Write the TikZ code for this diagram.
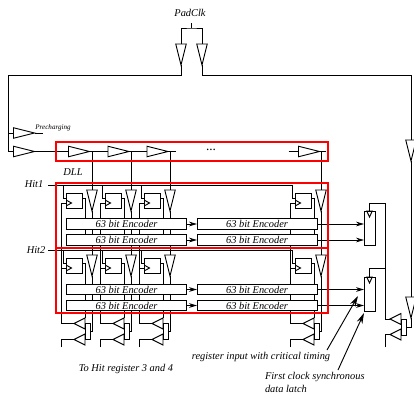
\documentclass[tikz,border=0pt]{standalone}
\usepackage{fontspec}
\setmainfont{Liberation Serif}
\usetikzlibrary{positioning,arrows.meta,shapes.geometric,calc}

\begin{document}
\begin{tikzpicture}[
    x=0.75pt, y=-0.75pt,
    line width=0.7pt,
    every node/.style={inner sep=0pt, outer sep=0pt},
    bufr/.style={draw, isosceles triangle, isosceles triangle stretches, shape border rotate=0, minimum width=10.5*0.75pt, minimum height=21*0.75pt},
    bufl/.style={draw, isosceles triangle, isosceles triangle stretches, shape border rotate=180, minimum width=11*0.75pt, minimum height=11*0.75pt},
    bufd/.style={draw, isosceles triangle, isosceles triangle stretches, shape border rotate=270, minimum width=10.5*0.75pt, minimum height=21*0.75pt},
    clkr/.style={draw, isosceles triangle, isosceles triangle stretches, shape border rotate=0, minimum width=5.5*0.75pt, minimum height=5*0.75pt, anchor=lower side},
    clkd/.style={draw, isosceles triangle, isosceles triangle stretches, shape border rotate=270, minimum width=5.5*0.75pt, minimum height=6*0.75pt, anchor=lower side},
    ffbox/.style={draw, rectangle, minimum width=16*0.75pt, minimum height=15*0.75pt, anchor=north west},
    enc/.style={draw, rectangle, fill=white, minimum width=120*0.75pt, minimum height=10.5*0.75pt, font=\fontsize{7.8}{9}\itshape},
    latch/.style={draw, rectangle, minimum width=11*0.75pt, minimum height=34*0.75pt, anchor=north west},
    mux/.style={draw, rectangle, minimum width=5*0.75pt, minimum height=16*0.75pt, anchor=north west},
    lbl/.style={font=\fontsize{7.8}{9}\itshape},
    redbox/.style={draw=red, line width=1.5pt},
    arr/.style={-{Stealth[length=6pt, width=3.5pt]}},
    note/.style={-{Stealth[length=8pt, width=4.5pt]}}
]
\useasboundingbox (0,0) rectangle (414,394);

\node[lbl] (padclk) at (190,12.5) {PadClk};
\node[bufd, anchor=lower side] (padl) at (181,44) {};
\node[bufd, anchor=lower side] (padr) at (202,44) {};
\coordinate (padtop) at (191.5,23);
\coordinate (padjoin) at (191.5,28);
\coordinate (leftcorner) at (8,75);
\coordinate (rightcorner) at (411,75);
\draw (padtop) -- (padjoin);
\draw (padl.lower side) |- (padjoin) -| (padr.lower side);
\draw (padl.apex) |- (leftcorner);
\draw (padr.apex) |- (rightcorner);

\node[bufr, anchor=lower side] (pre) at (13.5,133) {};
\node[bufr, anchor=lower side] (dll0) at (13.5,151.5) {};
\node[bufr, anchor=lower side] (dll1) at (68.5,151.5) {};
\node[bufr, anchor=lower side] (dll2) at (108,151.5) {};
\node[bufr, anchor=lower side] (dll3) at (147,151.5) {};
\node[bufr, anchor=lower side] (dll4) at (298.5,151.5) {};
\coordinate (preend) at (43,133);
\coordinate (dll3end) at (176,151.5);
\coordinate (dll4start) at (288.5,151.5);
\coordinate (dll4end) at (326,151.5);
\draw (leftcorner) |- (dll0.lower side);
\draw (leftcorner |- pre.lower side) -- (pre.lower side);
\draw (pre.apex) -- (preend);
\draw (dll0.apex) -- (dll1.lower side);
\draw (dll1.apex) -- (dll2.lower side);
\draw (dll2.apex) -- (dll3.lower side);
\draw (dll3.apex) -- (dll3end);
\draw (dll4start) -- (dll4.lower side);
\draw (dll4.apex) -- (dll4end);
\node[font=\fontsize{5.3}{6}\itshape] (prelabel) at (53,128) {Precharging};
\node[font=\fontsize{5}{6}] (dots) at (211,149.5) {...};
\node[lbl] (dlllabel) at (73,172) {DLL};
\node[lbl] (hit1label) at (34,184) {Hit1};
\node[lbl] (hit2label) at (36,250) {Hit2};

\coordinate (hit1start) at (48,185);
\coordinate (hit1end) at (293,185);
\coordinate (hit2start) at (48,250);
\coordinate (hit2end) at (293,250);
\draw (hit1start) -- (hit1end);
\draw (hit2start) -- (hit2end);

\foreach \n/\x in {1/0,2/39,3/78,4/229} {
    \node[ffbox] (ffa\n) at (66.5+\x,193) {};
    \node[ffbox] (ffb\n) at (66.5+\x,258) {};
    \node[clkr] (cka\n) at (66.5+\x,203) {};
    \node[clkr] (ckb\n) at (66.5+\x,268) {};
    \node[bufd, anchor=lower side] (bua\n) at (92+\x,190) {};
    \node[bufd, anchor=lower side] (bub\n) at (92+\x,255) {};
    \node[bufl, anchor=apex] (mxa\n) at (74+\x,323.5) {};
    \node[bufl, anchor=apex] (mxb\n) at (74+\x,339.5) {};
    \node[mux] (mxs\n) at (85+\x,323.5) {};
    \coordinate (tap\n) at (92+\x,151.5);
    \coordinate (clktop\n) at (61+\x,203);
    \coordinate (clkend\n) at (61+\x,347);
    \coordinate (outa\n) at (85+\x,198);
    \coordinate (outb\n) at (85+\x,263);
    % hit branch and clock
    \draw (63.5+\x,185) |- (66.5+\x,198);
    \draw (63.5+\x,250) |- (66.5+\x,263);
    \draw (clktop\n) -- (cka\n.lower side);
    \draw (clktop\n |- ckb\n.lower side) -- (ckb\n.lower side);
    \draw (clktop\n) -- (clktop\n |- mxa\n.apex) -- (mxa\n.apex);
    \draw (clkend\n) -- (clkend\n |- mxb\n.apex) -- (mxb\n.apex);
    % outputs
    \draw (ffa\n.east |- outa\n) -- (outa\n) -- (85+\x,245);
    \draw (ffb\n.east |- outb\n) -- (outb\n) -- (85+\x,318);
    \draw (tap\n) -- (bua\n.lower side);
    \draw (bua\n.apex) -- (bub\n.lower side);
    \draw (bub\n.apex) |- (mxs\n.east);
}

\foreach \n/\y in {a1/224,a2/240,b1/289.5,b2/305.5} {
    \node[enc] (enl\n) at (126.5,\y) {63 bit Encoder};
    \node[enc] (enr\n) at (257,\y) {63 bit Encoder};
    \draw[arr] (enl\n) -- (enr\n);
}

\node[latch] (lat1) at (364,211) {};
\node[latch] (lat2) at (364,277) {};
\node[clkd] (lck1) at (369.5,211) {};
\node[clkd] (lck2) at (369.5,277) {};
\draw[arr] (enra1) -- (enra1 -| lat1.west);
\draw[arr] (enra2) -- (enra2 -| lat1.west);
\draw[arr] (enrb1) -- (enrb1 -| lat2.west);
\draw[arr] (enrb2) -- (enrb2 -| lat2.west);

\node[bufd, anchor=lower side] (rbuf1) at (411,140) {};
\node[bufd, anchor=lower side] (rbuf2) at (411,297) {};
\node[bufl, anchor=apex] (rmxa) at (390,319) {};
\node[bufl, anchor=apex] (rmxb) at (390,334.5) {};
\node[mux] (rmxs) at (401,319) {};
\coordinate (rtop) at (385,203);
\coordinate (rmid) at (385,268);
\coordinate (rend) at (385,347);
\draw (rightcorner) -- (rbuf1.lower side);
\draw (rbuf1.apex) -- (rbuf2.lower side);
\draw (rbuf2.apex) |- (rmxs.east);
\draw (lck1.lower side) |- (rtop) -- (rtop |- rmxa.apex) -- (rmxa.apex);
\draw (lck2.lower side) |- (rmid);
\draw (rend) -- (rend |- rmxb.apex) -- (rmxb.apex);

\draw[redbox] (56,141.5) rectangle (327.5,161);
\draw[redbox] (56,183) rectangle (327.5,248);
\draw[redbox] (56,248) rectangle (327.5,313);

\node[lbl] (tohit) at (126,369) {To Hit register 3 and 4};
\node[lbl] (critical) at (261,357) {register input with critical timing};
\node[lbl, anchor=west] (first) at (265,377.5) {First clock synchronous};
\node[lbl, anchor=west] (datalatch) at (265,389) {data latch};
\coordinate (criticaltail) at (327,350);
\coordinate (criticaltip) at (358,296);
\coordinate (firsttail) at (338,370);
\coordinate (firsttip) at (364,313);
\draw[note] (criticaltail) -- (criticaltip);
\draw[note] (firsttail) -- (firsttip);
\end{tikzpicture}
\end{document}
